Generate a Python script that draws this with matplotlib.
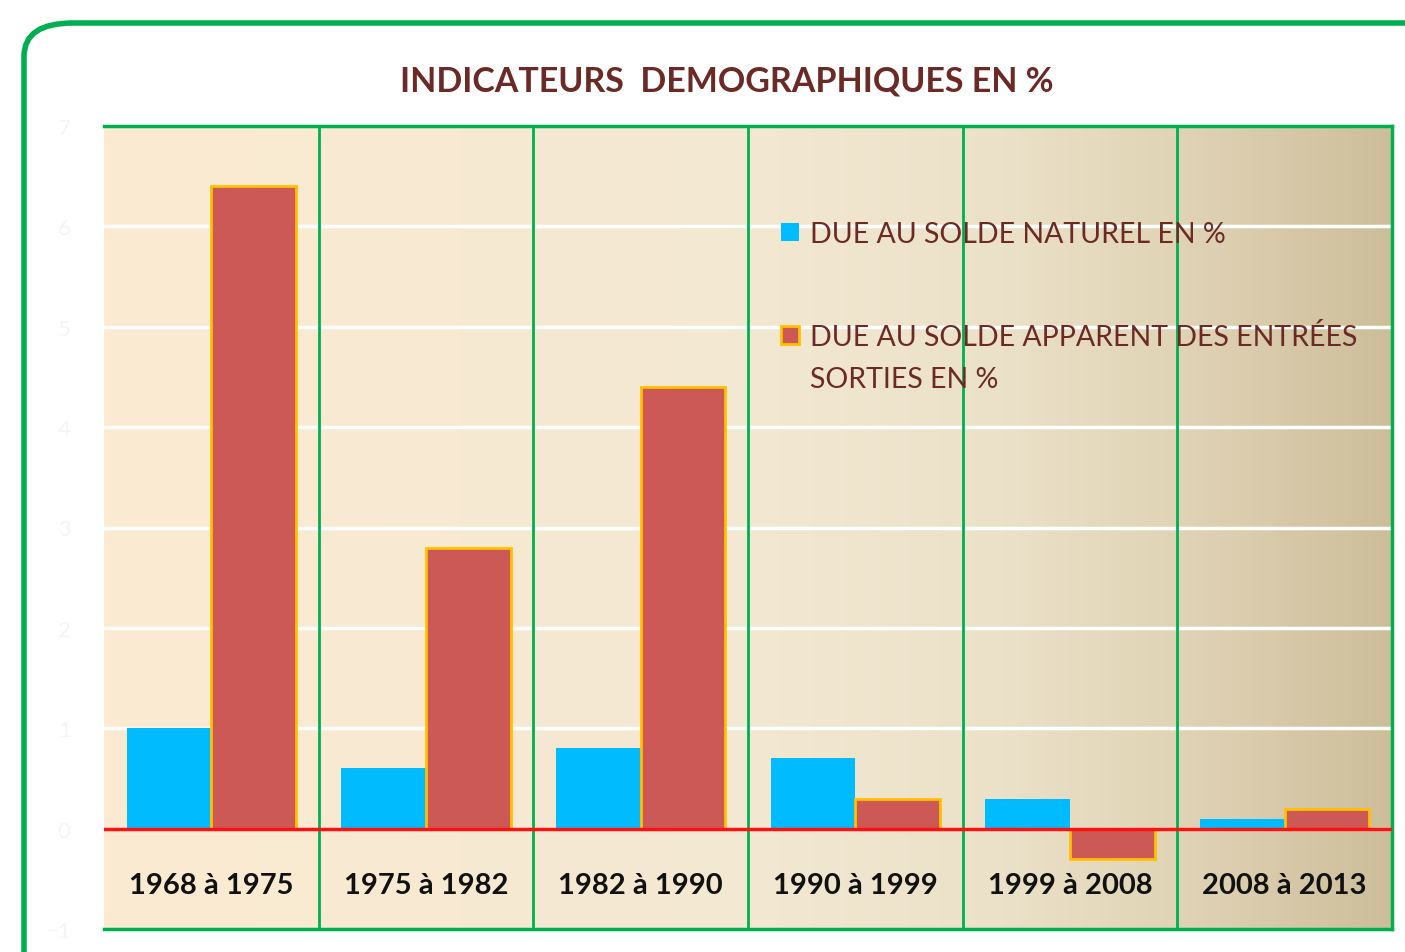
import numpy as np
import matplotlib.pyplot as plt
from matplotlib.colors import LinearSegmentedColormap
from matplotlib.patches import FancyBboxPatch, Rectangle

periods = ["1968 à 1975", "1975 à 1982", "1982 à 1990",
           "1990 à 1999", "1999 à 2008", "2008 à 2013"]
solde_naturel = [1.0, 0.6, 0.8, 0.7, 0.3, 0.1]
solde_migratoire = [6.4, 2.8, 4.4, 0.3, -0.3, 0.2]
y_ticks = [-1, 0, 1, 2, 3, 4, 5, 6, 7]

label_naturel = "DUE AU SOLDE NATUREL EN %"
label_migratoire = "DUE AU SOLDE APPARENT DES ENTRÉES\nSORTIES EN %"
title = "INDICATEURS  DEMOGRAPHIQUES EN %"

text_col = "#6b2a26"
green = "#00b050"
blue = "#00bcff"
red = "#cd5957"
gold = "#ffc000"

plt.rcParams['font.family'] = ['Lato', 'DejaVu Sans']

W, H = 1405, 953
fig = plt.figure(figsize=(W / 100, H / 100), dpi=100)

# rounded green frame, running off the right and bottom edges
frame = FancyBboxPatch((24 / W, -0.05), 1.1, 1 - 24 / H + 0.05,
                       boxstyle="round,pad=0,rounding_size=0.035",
                       transform=fig.transFigure, facecolor="white",
                       edgecolor=green, linewidth=4, zorder=-1)
fig.patches.append(frame)

ax = fig.add_axes([104 / W, 1 - 930 / H, (1392 - 104) / W, (930 - 127) / H])
ax.set_zorder(2)
ax.set_xlim(-0.5, 5.5)
ax.set_ylim(-1, 7)

# background gradient
cmap = LinearSegmentedColormap.from_list(
    "bg", [(0, "#fcebd3"), (0.5, "#f3e8d2"), (0.7, "#ebe1c8"),
           (0.85, "#dfd2b4"), (1, "#cdbe9a")])
grad = np.linspace(0, 1, 256).reshape(1, -1)
ax.imshow(grad, cmap=cmap, extent=[-0.5, 5.5, -1, 7], aspect="auto", zorder=0)

for y in range(0, 7):
    ax.axhline(y, color="white", lw=2.5, zorder=1)

x = np.arange(len(periods))
w = 0.395
ax.bar(x - w / 2, solde_naturel, w, color=blue, zorder=3)
ax.bar(x + w / 2, solde_migratoire, w, color=red, edgecolor=gold, linewidth=2,
       zorder=3)

for xb in np.arange(0.5, 6, 1):
    ax.axvline(xb, color=green, lw=2, zorder=4)
ax.axhline(0, color="#ff1010", lw=2.5, zorder=5)

for xi, p in zip(x, periods):
    ax.text(xi, -0.56, p, ha="center", va="center", fontsize=21,
            fontweight="bold", color="#111111", zorder=6)

for s in ["top", "bottom", "right"]:
    ax.spines[s].set_color(green)
    ax.spines[s].set_linewidth(2.5)
ax.spines["left"].set_visible(False)

ax.set_xticks([])
ax.set_yticks(y_ticks)
ax.tick_params(axis="y", length=0, pad=24, colors="#f5f5f5", labelsize=16)

# legend drawn by hand (pixel positions in the figure)
def fig_xy(px, py):
    return px / W, 1 - py / H

entries = [(blue, "none", label_naturel, 233),
           (red, gold, label_migratoire, 336)]
for face, edge, label, py in entries:
    hx, hy = fig_xy(781, py + 9)
    fig.patches.append(Rectangle((hx, hy), 18 / W, 18 / H, transform=fig.transFigure,
                                 facecolor=face, edgecolor=edge, linewidth=2,
                                 zorder=5))
    for i, line in enumerate(label.split("\n")):
        tx, ty = fig_xy(810, py + 2 + 42 * i)
        fig.text(tx, ty, line, ha="left", va="center", fontsize=20.5,
                 color=text_col, zorder=5)

fig.text(727 / W, 1 - 81 / H, title, ha="center", va="center",
         fontsize=24.5, fontweight="bold", color=text_col)

fig.savefig("out.png", dpi=100)
